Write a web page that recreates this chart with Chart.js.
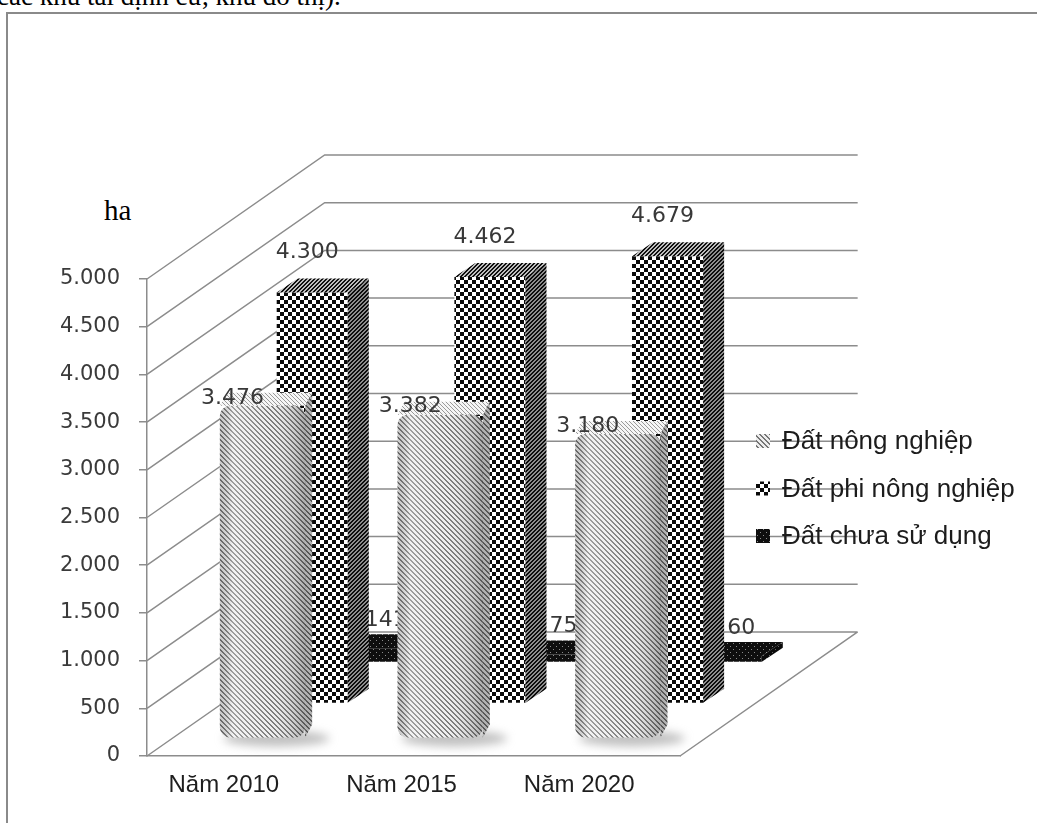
<!DOCTYPE html>
<html>
<head>
<meta charset="utf-8">
<script src="https://cdn.jsdelivr.net/npm/chart.js@4.4.1/dist/chart.umd.min.js"></script>
<style>
html, body { margin: 0; padding: 0; background: #fff; overflow: hidden; }
#wrap { position: relative; width: 1037px; height: 823px; overflow: hidden; }
#caption { position: absolute; left: -3px; top: -17px; font-family: "Liberation Serif", serif; font-size: 27px; line-height: 27px; color: #000; white-space: nowrap; }
#frame { position: absolute; left: 6px; top: 12px; width: 1100px; height: 900px; border-top: 2px solid #8a8a8a; border-left: 2px solid #8a8a8a; }
#unit { position: absolute; left: 104px; top: 194px; font-family: "Liberation Serif", serif; font-size: 29px; color: #000; }
canvas { position: absolute; left: 0; top: 0; }
</style>
</head>
<body>
<div id="wrap">
  <div id="caption">các khu tái định cư, khu đô thị).</div>
  <div id="frame"></div>
  <div id="unit">ha</div>
  <canvas id="landChart" width="1037" height="823"></canvas>
</div>
<script>
const years = ['Năm 2010', 'Năm 2015', 'Năm 2020'];
const seriesNames = ['Đất nông nghiệp', 'Đất phi nông nghiệp', 'Đất chưa sử dụng'];
const datNongNghiep = [3476, 3382, 3180];
const datPhiNongNghiep = [4300, 4462, 4679];
const datChuaSuDung = [141, 75, 60];
const yMin = 0, yMax = 5000, yStep = 500;

// fake 3D: floor depth is one category wide and 1300 ha tall
const DEPTH_X = 1;
const DEPTH_Y = 1300;
const rowDepth = [0.15, 0.43, 0.76];
const boxDepth = [{dx: 7, dy: -13}, {dx: 21, dy: -14}, {dx: 21, dy: -14}];
const labelOffset = [{dx: -30, dy: -8}, {dx: -5, dy: -40}, {dx: 15, dy: -28}];

function fmt(v) {
    return String(v).replace(/\B(?=(\d{3})+(?!\d))/g, '.');
}

function tile(size, paint) {
    const c = document.createElement('canvas');
    c.width = size;
    c.height = size;
    const g = c.getContext('2d');
    for (let y = 0; y < size; y++) {
        for (let x = 0; x < size; x++) {
            g.fillStyle = paint(x, y);
            g.fillRect(x, y, 1, 1);
        }
    }
    return g.createPattern(c, 'repeat');
}

const pat = {
    stripe: tile(5, (x, y) => ((x - y + 10) % 5 < 2 ? '#767676' : '#ededed')),
    stripeLight: tile(4, (x, y) => ((x - y + 8) % 4 < 1 ? '#9a9a9a' : '#f6f6f6')),
    checker: tile(8, (x, y) => (((x >> 2) + (y >> 2)) % 2 ? '#ffffff' : '#0a0a0a')),
    checkerSide: tile(4, (x, y) => ((x + y) % 4 < 2 ? '#101010' : '#bdbdbd')),
    dots: tile(6, (x, y) => ((x === 1 && y === 1) || (x === 4 && y === 4) ? '#8a8a8a' : '#0e0e0e'))
};
const frontFill = [pat.stripe, pat.checker, pat.dots];
const topFill = [pat.stripeLight, pat.checkerSide, pat.dots];
const sideFill = [pat.stripe, pat.checkerSide, pat.dots];

function toPoints(arr) {
    return arr.map((v, i) => ({x: i, y: v}));
}

function poly(ctx, pts, fill) {
    ctx.beginPath();
    ctx.moveTo(pts[0][0], pts[0][1]);
    for (let i = 1; i < pts.length; i++) ctx.lineTo(pts[i][0], pts[i][1]);
    ctx.closePath();
    ctx.fillStyle = fill;
    ctx.fill();
}

const threeD = {
    id: 'threeD',
    beforeDatasetsDraw(chart) {
        const {ctx, chartArea: a, scales: {x, y}} = chart;
        const dx = (x.getPixelForTick(1) - x.getPixelForTick(0)) * DEPTH_X;
        const dy = y.getPixelForValue(DEPTH_Y) - y.getPixelForValue(0);
        ctx.save();
        ctx.strokeStyle = '#8c8c8c';
        ctx.lineWidth = 1.5;
        ctx.beginPath();
        y.ticks.forEach(t => {
            const p = y.getPixelForValue(t.value);
            ctx.moveTo(a.left, p);
            ctx.lineTo(a.left + dx, p + dy);
            ctx.lineTo(a.right + dx, p + dy);
        });
        ctx.moveTo(a.right, a.bottom);
        ctx.lineTo(a.right + dx, a.bottom + dy);
        ctx.stroke();
        ctx.restore();
    },
    beforeDatasetDraw(chart, args) {
        if (args.index !== 0) return;
        const ctx = chart.ctx;
        ctx.save();
        ctx.filter = 'blur(5px)';
        ctx.fillStyle = 'rgba(140,140,140,0.55)';
        args.meta.data.forEach(el => {
            const {x, base, width} = el.getProps(['x', 'base', 'width'], true);
            ctx.beginPath();
            ctx.ellipse(x + 14, base + 1, width * 0.62, 8, 0, 0, Math.PI * 2);
            ctx.fill();
        });
        ctx.restore();
    },
    afterDatasetDraw(chart, args) {
        const ctx = chart.ctx;
        const r = args.index;
        const box = boxDepth[r];
        const lab = labelOffset[r];
        const values = chart.data.datasets[r].data;
        ctx.save();
        args.meta.data.forEach((el, i) => {
            const {x, y, base, width} = el.getProps(['x', 'y', 'base', 'width'], true);
            const l = x - width / 2, rt = x + width / 2;
            poly(ctx, [[rt, y], [rt + box.dx, y + box.dy], [rt + box.dx, base + box.dy], [rt, base]], sideFill[r]);
            ctx.fillStyle = 'rgba(0,0,0,0.25)';
            ctx.fill();
            poly(ctx, [[l, y], [rt, y], [rt + box.dx, y + box.dy], [l + box.dx, y + box.dy]], topFill[r]);
            if (r === 0) {
                // cylinder-ish shading on the front bars
                const g = ctx.createLinearGradient(l, 0, rt, 0);
                g.addColorStop(0, 'rgba(0,0,0,0.15)');
                g.addColorStop(0.15, 'rgba(255,255,255,0.3)');
                g.addColorStop(0.6, 'rgba(255,255,255,0.05)');
                g.addColorStop(1, 'rgba(0,0,0,0.28)');
                ctx.fillStyle = g;
                ctx.beginPath();
                ctx.roundRect(l, y, width, base - y, 10);
                ctx.fill();
            }
            ctx.font = '22px "DejaVu Sans"';
            ctx.fillStyle = '#383838';
            ctx.textAlign = 'center';
            ctx.textBaseline = 'middle';
            ctx.fillText(fmt(values[i].y), x + lab.dx, y + lab.dy);
        });
        ctx.restore();
    },
    afterDraw(chart) {
        const {ctx, chartArea: a} = chart;
        const x0 = a.right + 76;
        ctx.save();
        ctx.font = '26px "Liberation Sans"';
        ctx.textBaseline = 'middle';
        ctx.textAlign = 'left';
        seriesNames.forEach((name, i) => {
            const cy = 441 + i * 47.5;
            ctx.fillStyle = frontFill[i];
            ctx.fillRect(x0, cy - 7, 14, 14);
            ctx.fillStyle = '#1c1c1c';
            ctx.fillText(name, x0 + 26, cy + 1);
        });
        ctx.restore();
    }
};

function rowX(r) {
    return {
        type: 'linear', display: false, offset: false,
        min: -0.5 - rowDepth[r] * DEPTH_X, max: 2.5 - rowDepth[r] * DEPTH_X,
        ticks: {stepSize: 1, includeBounds: false}
    };
}
function rowY(r) {
    return {
        type: 'linear', display: false,
        min: yMin - rowDepth[r] * DEPTH_Y, max: yMax - rowDepth[r] * DEPTH_Y
    };
}

document.addEventListener('DOMContentLoaded', function() {
    const ctx = document.getElementById('landChart').getContext('2d');
    new Chart(ctx, {
        type: 'bar',
        data: {
            labels: years,
            datasets: [
                {label: seriesNames[0], data: toPoints(datNongNghiep), xAxisID: 'x0', yAxisID: 'y0',
                 backgroundColor: pat.stripe, barPercentage: 0.48, categoryPercentage: 1,
                 borderRadius: 10, borderSkipped: false, clip: false, grouped: false},
                {label: seriesNames[1], data: toPoints(datPhiNongNghiep), xAxisID: 'x1', yAxisID: 'y1',
                 backgroundColor: pat.checker, barPercentage: 0.4, categoryPercentage: 1,
                 clip: false, grouped: false},
                {label: seriesNames[2], data: toPoints(datChuaSuDung), xAxisID: 'x2', yAxisID: 'y2',
                 backgroundColor: pat.dots, barPercentage: 0.4, categoryPercentage: 1,
                 clip: false, grouped: false}
            ]
        },
        options: {
            responsive: false,
            animation: false,
            devicePixelRatio: 1,
            layout: {padding: {left: 7, right: 357, top: 279, bottom: 0}},
            plugins: {legend: {display: false}, tooltip: {enabled: false}},
            scales: {
                x: {
                    type: 'category', offset: true,
                    grid: {display: false, drawTicks: false},
                    border: {display: true, color: '#8c8c8c', width: 1.5},
                    ticks: {font: {family: 'Liberation Sans', size: 24}, color: '#1e1e1e', padding: 15,
                            maxRotation: 0, labelOffset: -12},
                    afterFit: s => { s.height = 67; }
                },
                y: {
                    type: 'linear', min: yMin, max: yMax,
                    grid: {drawOnChartArea: false, drawTicks: true, tickLength: 8, color: '#8c8c8c', lineWidth: 1.5},
                    border: {display: true, color: '#8c8c8c', width: 1.5},
                    ticks: {stepSize: yStep, padding: 19, font: {family: 'DejaVu Sans', size: 21}, color: '#3a3a3a',
                            callback: v => fmt(v)},
                    afterFit: s => { s.width = 140; }
                },
                x0: rowX(0), x1: rowX(1), x2: rowX(2),
                y0: rowY(0), y1: rowY(1), y2: rowY(2)
            }
        },
        plugins: [threeD]
    });
});
</script>
</body>
</html>
